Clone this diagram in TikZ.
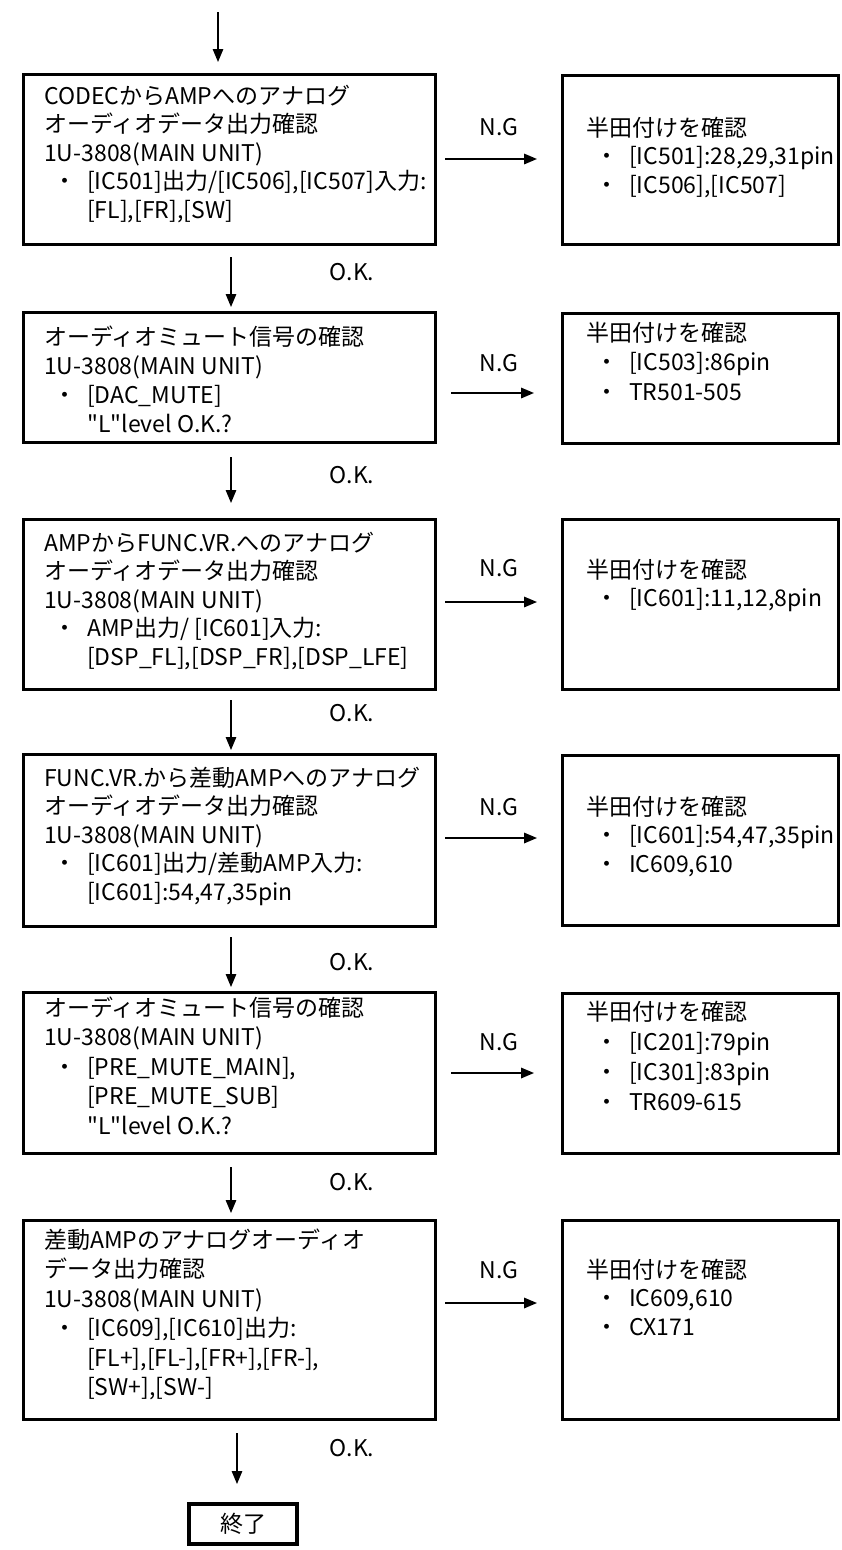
\documentclass[tikz,border=0pt]{standalone}
\usepackage{fontspec}
\setmainfont{Noto Sans CJK JP}
\newfontfamily\plainq{Noto Sans CJK JP}
\usetikzlibrary{arrows.meta}
\newcommand{\bl}[1]{\hspace*{9pt}\makebox[23pt][c]{・}\hspace*{11pt}#1}
\newcommand{\ct}[1]{\hspace*{43pt}#1}
\newcommand{\qq}{{\plainq\symbol{34}}}
\begin{document}
\begin{tikzpicture}[x=1pt,y=-1pt,
  box/.style={draw, line width=3.2pt, inner sep=0pt, anchor=north west},
  txt/.style={inner sep=0pt, anchor=base west, font=\fontsize{23pt}{#1pt}\selectfont},
  txt/.default=28.5,
  lbl/.style={inner sep=0pt, font=\fontsize{23pt}{29pt}\selectfont},
  arr/.style={line width=1.7pt, -{Triangle[length=13pt,width=10.5pt]}}]
\useasboundingbox (0,0) rectangle (842,1550);

% left boxes
\node[box, minimum width=412pt, minimum height=170pt] (b1) at (22,73) {};
\node[box, minimum width=412pt, minimum height=130pt] (b2) at (22,311) {};
\node[box, minimum width=412pt, minimum height=170pt] (b3) at (22,518) {};
\node[box, minimum width=412pt, minimum height=172pt] (b4) at (22,753) {};
\node[box, minimum width=412pt, minimum height=161pt] (b5) at (22,991) {};
\node[box, minimum width=412pt, minimum height=199pt] (b6) at (22,1219) {};
% right boxes
\node[box, minimum width=276pt, minimum height=169pt] (r1) at (561,74) {};
\node[box, minimum width=276pt, minimum height=130pt] (r2) at (561,312) {};
\node[box, minimum width=276pt, minimum height=170pt] (r3) at (561,518) {};
\node[box, minimum width=276pt, minimum height=170pt] (r4) at (561,754) {};
\node[box, minimum width=276pt, minimum height=160pt] (r5) at (561,992) {};
\node[box, minimum width=276pt, minimum height=199pt] (r6) at (561,1219) {};
% end box
\node[box, anchor=center, minimum width=108pt, minimum height=40pt, font=\fontsize{23pt}{29pt}\selectfont] (end) at (243,1524) {終了};

% left texts
\node[txt] (t1) at (44,104) {\parbox[t]{420pt}{CODECからAMPへのアナログ\\オーディオデータ出力確認\\1U-3808(MAIN UNIT)\\\bl{[IC501]出力/[IC506],[IC507]入力:}\\\ct{[FL],[FR],[SW]}}};
\node[txt=29] (t2) at (44,345) {\parbox[t]{420pt}{オーディオミュート信号の確認\\1U-3808(MAIN UNIT)\\\bl{[DAC\_MUTE]}\\\ct{\qq L\qq level O.K.?}}};
\node[txt] (t3) at (44,551) {\parbox[t]{420pt}{AMPからFUNC.VR.へのアナログ\\オーディオデータ出力確認\\1U-3808(MAIN UNIT)\\\bl{AMP出力/ [IC601]入力:}\\\ct{[DSP\_FL],[DSP\_FR],[DSP\_LFE]}}};
\node[txt] (t4) at (44,786) {\parbox[t]{420pt}{FUNC.VR.から差動AMPへのアナログ\\オーディオデータ出力確認\\1U-3808(MAIN UNIT)\\\bl{[IC601]出力/差動AMP入力:}\\\ct{[IC601]:54,47,35pin}}};
\node[txt=29.5] (t5) at (44,1016) {\parbox[t]{420pt}{オーディオミュート信号の確認\\1U-3808(MAIN UNIT)\\\bl{[PRE\_MUTE\_MAIN],}\\\ct{[PRE\_MUTE\_SUB]}\\\ct{\qq L\qq level O.K.?}}};
\node[txt=29.5] (t6) at (44,1248) {\parbox[t]{420pt}{差動AMPのアナログオーディオ\\データ出力確認\\1U-3808(MAIN UNIT)\\\bl{[IC609],[IC610]出力:}\\\ct{[FL+],[FL-],[FR+],[FR-],}\\\ct{[SW+],[SW-]}}};

% right texts
\node[txt] (s1) at (586,136) {\parbox[t]{300pt}{半田付けを確認\\\bl{[IC501]:28,29,31pin}\\\bl{[IC506],[IC507]}}};
\node[txt=29.5] (s2) at (586,341) {\parbox[t]{300pt}{半田付けを確認\\\bl{[IC503]:86pin}\\\bl{TR501-505}}};
\node[txt] (s3) at (586,578) {\parbox[t]{300pt}{半田付けを確認\\\bl{[IC601]:11,12,8pin}}};
\node[txt] (s4) at (586,815) {\parbox[t]{300pt}{半田付けを確認\\\bl{[IC601]:54,47,35pin}\\\bl{IC609,610}}};
\node[txt=30] (s5) at (586,1020) {\parbox[t]{300pt}{半田付けを確認\\\bl{[IC201]:79pin}\\\bl{[IC301]:83pin}\\\bl{TR609-615}}};
\node[txt] (s6) at (586,1278) {\parbox[t]{300pt}{半田付けを確認\\\bl{IC609,610}\\\bl{CX171}}};

% labels
\node[lbl] (ng1) at (499,127) {N.G};
\node[lbl] (ng2) at (499,363) {N.G};
\node[lbl] (ng3) at (499,568) {N.G};
\node[lbl] (ng4) at (499,807) {N.G};
\node[lbl] (ng5) at (499,1042) {N.G};
\node[lbl] (ng6) at (499,1270) {N.G};
\node[lbl] (ok1) at (352,272) {O.K.};
\node[lbl] (ok2) at (352,475) {O.K.};
\node[lbl] (ok3) at (352,713) {O.K.};
\node[lbl] (ok4) at (352,962) {O.K.};
\node[lbl] (ok5) at (352,1182) {O.K.};
\node[lbl] (ok6) at (352,1448) {O.K.};

% vertical arrows
\coordinate (v0s) at (218,12);   \coordinate (v0e) at (218,62);
\coordinate (v1s) at (231,257);  \coordinate (v1e) at (231,307);
\coordinate (v2s) at (231,457);  \coordinate (v2e) at (231,503);
\coordinate (v3s) at (231,700);  \coordinate (v3e) at (231,750);
\coordinate (v4s) at (231,937);  \coordinate (v4e) at (231,987);
\coordinate (v5s) at (231,1167); \coordinate (v5e) at (231,1213);
\coordinate (v6s) at (237,1433); \coordinate (v6e) at (237,1484);
\foreach \i in {0,...,6} {\draw[arr, line width=1.4pt] (v\i s) -- (v\i e);}

% horizontal arrows
\coordinate (h1s) at (445,159);  \coordinate (h1e) at (537,159);
\coordinate (h2s) at (451,393);  \coordinate (h2e) at (534,393);
\coordinate (h3s) at (445,602);  \coordinate (h3e) at (537,602);
\coordinate (h4s) at (445,838);  \coordinate (h4e) at (537,838);
\coordinate (h5s) at (451,1073); \coordinate (h5e) at (534,1073);
\coordinate (h6s) at (445,1303); \coordinate (h6e) at (537,1303);
\foreach \i in {1,...,6} {\draw[arr] (h\i s) -- (h\i e);}
\end{tikzpicture}
\end{document}
